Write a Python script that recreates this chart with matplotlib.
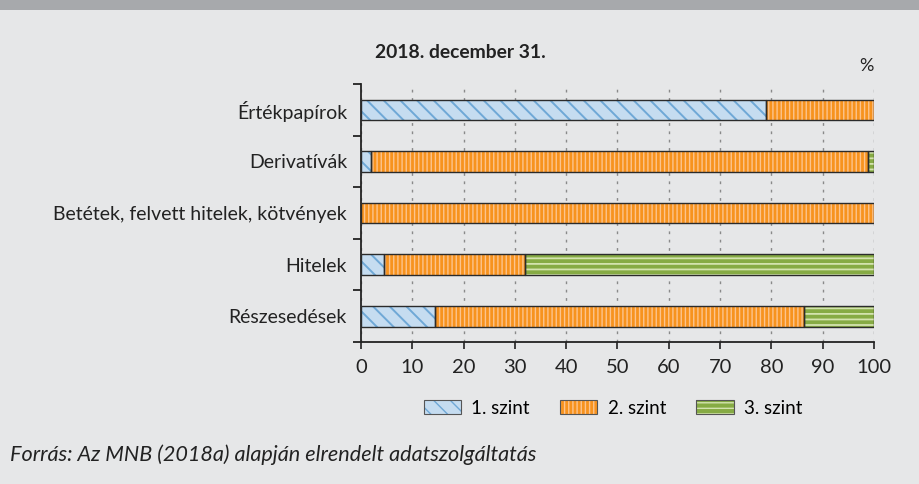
import numpy as np
import matplotlib.pyplot as plt
from matplotlib.patches import Patch, Rectangle
from matplotlib.legend_handler import HandlerTuple

plt.rcParams['font.family'] = ['Lato', 'DejaVu Sans']

categories = ['Értékpapírok', 'Derivatívák', 'Betétek, felvett hitelek, kötvények',
              'Hitelek', 'Részesedések']
szint1 = [79.0, 2.0, 0.0, 4.4, 14.4]
szint2 = [21.0, 96.8, 100.0, 27.6, 72.0]
szint3 = [0.0, 1.2, 0.0, 68.0, 13.6]
series_names = ['1. szint', '2. szint', '3. szint']

bg = '#e6e7e8'
faces = ['#c5dcf0', '#f7931e', '#86ab44']
hatch_cols = ['#6fa8d6', '#fcc48e', '#d3e3ae']
hatches = ['\\\\', '||||', '---']
hatch_lw = [1.4, 1.0, 1.3]

fig = plt.figure(figsize=(9.19, 4.84), dpi=100)
fig.patch.set_facecolor(bg)
fig.patches.append(Rectangle((0, 1 - 10 / 484), 1, 10 / 484, transform=fig.transFigure,
                             facecolor='#a7a9ac', edgecolor='none'))

ax = fig.add_axes([0.3928, 0.2934, 0.5582, 0.533])
ax.set_facecolor(bg)

y = np.arange(len(categories))[::-1]
left = np.zeros(len(categories))
handles = []
for vals, fc, hc, h, hl in zip([szint1, szint2, szint3], faces, hatch_cols, hatches, hatch_lw):
    vals = np.array(vals)
    with plt.rc_context({'hatch.linewidth': hl}):
        ax.barh(y, vals, left=left, height=0.4, color=fc, edgecolor=hc, hatch=h,
                linewidth=0, zorder=3)
        handles.append((Patch(facecolor=fc, edgecolor=hc, hatch=h, linewidth=0),
                        Patch(facecolor='none', edgecolor='#555555', linewidth=0.8)))
    mask = vals > 0
    ax.barh(y[mask], vals[mask], left=left[mask], height=0.4, facecolor='none',
            edgecolor='#2b2b2b', linewidth=1.0, zorder=4)
    left = left + vals

ax.set_xlim(0, 100)
ax.set_ylim(-0.5, 4.5)
ax.set_xticks(np.arange(0, 101, 10))
ax.set_yticks(y)
ax.set_yticklabels(categories)
ax.set_yticks(np.arange(-0.5, 4.6, 1), minor=True)
ax.tick_params(axis='y', which='major', length=0, pad=10, labelsize=14, colors='#222222')
ax.tick_params(axis='y', which='minor', length=6, width=1.3, color='#222222')
ax.tick_params(axis='x', length=5, width=1.2, pad=7, labelsize=14.5, colors='#222222')
ax.xaxis.grid(True, linestyle=(0, (2, 4)), color='#8a8a8a', linewidth=1.0, zorder=0)
for s in ['top', 'right']:
    ax.spines[s].set_visible(False)
for s in ['left', 'bottom']:
    ax.spines[s].set_color('#222222')
    ax.spines[s].set_linewidth(1.3)

fig.text(460 / 919, 1 - 53 / 484, '2018. december 31.', ha='center', va='center',
         fontsize=13.9, fontweight='bold', color='#222222')
fig.text(866 / 919, 1 - 66 / 484, '%', ha='center', va='center', fontsize=13, color='#222222')

fig.legend(handles, series_names, loc='center', bbox_to_anchor=(613 / 919, 1 - 408 / 484),
           ncol=3, frameon=False, fontsize=13.5, handlelength=2.0, handleheight=0.7,
           columnspacing=1.6, handletextpad=0.55,
           handler_map={tuple: HandlerTuple(ndivide=1, pad=0)})

fig.text(10 / 919, 1 - 455 / 484, 'Forrás: Az MNB (2018a) alapján elrendelt adatszolgáltatás',
         ha='left', va='center', fontsize=15.6, style='italic', color='#222222')

fig.savefig('out.png', dpi=100, facecolor=bg)
